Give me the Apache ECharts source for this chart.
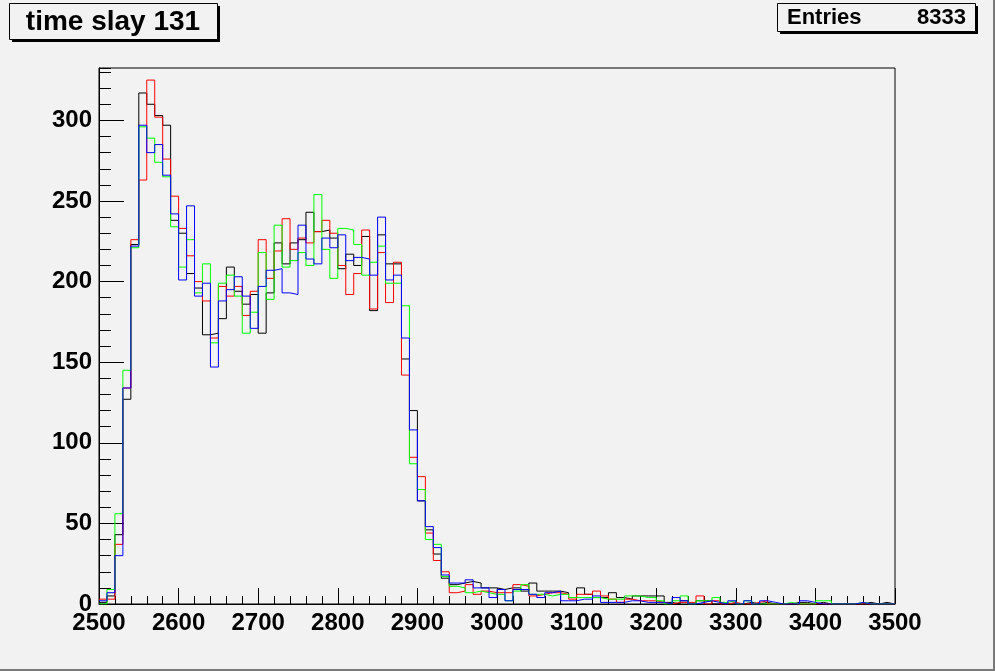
<!DOCTYPE html>
<html><head><meta charset="utf-8">
<script src="https://cdn.jsdelivr.net/npm/echarts@6/dist/echarts.min.js"></script>
<style>html,body{margin:0;padding:0;background:#f2f2f2;}#c{width:995px;height:671px;}</style>
</head><body><div id="c"></div>
<script>
const titleText = 'time slay 131';
const entriesLabel = 'Entries';
const entriesValue = '8333';
const binStart = 2500;
const binWidth = 10;
const xMin = 2500, xMax = 3500, xStep = 100;
const yMin = 0, yMax = 332.5, yStep = 50, yMinorStep = 10;

const black = [1,5,43,127,223,317,310,303,297,238, 230,205,196,167,168,177,209,194,186,192, 168,193,224,211,224,226,243,231,232,227, 208,217,210,228,182,229,211,211,152,120, 64,46,31,16,12,13,14,13,10,10, 9,10,10,8,13,8,8,8,7,4, 10,6,4,4,7,4,3,5,5,5, 5,1,0,2,0,2,2,0,0,0, 0,1,0,1,0,0,0,1,1,0, 1,0,0,0,0,0,1,0,1,0];
const red = [3,3,37,134,226,263,325,302,276,253, 233,216,200,188,165,197,191,197,179,194, 226,202,219,239,220,227,224,231,238,230, 210,192,205,232,183,218,187,212,142,91, 79,44,27,20,7,8,12,6,8,7, 7,7,12,11,5,6,7,7,6,3, 6,6,8,5,3,1,3,2,2,2, 1,0,1,1,1,5,0,2,0,1, 0,0,1,2,0,0,0,0,0,0, 0,0,0,0,0,0,0,0,0,0];
const green = [0,9,56,145,221,296,289,274,265,234, 209,226,193,211,162,199,204,191,168,181, 218,189,235,209,213,218,210,254,220,202, 233,232,223,204,212,222,199,199,185,87, 71,40,37,17,11,10,7,8,7,6, 6,2,8,12,6,6,5,6,6,4, 4,4,4,3,3,3,5,5,4,4, 2,0,2,5,0,2,2,4,1,2, 0,2,0,0,0,0,1,0,0,0, 2,2,0,0,0,1,0,0,0,0];
const blue = [2,7,30,134,222,297,280,285,266,242, 201,247,191,199,147,188,195,203,191,171, 197,207,208,193,192,235,214,211,227,221, 229,213,215,214,204,240,201,204,165,108, 64,48,35,18,13,13,15,10,10,4, 9,2,9,9,6,4,7,8,2,2, 3,3,5,1,1,1,2,2,1,1, 1,0,4,2,0,1,2,1,0,2, 0,2,0,2,1,0,0,0,2,1, 0,0,0,0,0,1,0,0,0,0];

function steps(v){
  const d = v.map((y,i)=>[binStart+i*binWidth, y]);
  d.push([binStart+v.length*binWidth, v[v.length-1]]);
  return d;
}
const FONT = "'Liberation Sans', Arial, Helvetica, sans-serif";
const chart = echarts.init(document.getElementById('c'), null, {renderer:'canvas'});
function ser(name, data, color, z){
  return {name, type:'line', step:'end', data:steps(data), symbol:'none', showSymbol:false,
    lineStyle:{color, width:1}, itemStyle:{color}, z, animation:false, clip:true};
}
chart.setOption({
  backgroundColor:'#f2f2f2',
  animation:false,
  grid:{left:99, right:100, top:68, bottom:67, show:true, borderColor:'#000', borderWidth:1, backgroundColor:'#f2f2f2'},
  xAxis:{type:'value', min:xMin, max:xMax, interval:xStep,
    axisLine:{show:true, lineStyle:{color:'#000', width:1}},
    axisTick:{show:true, inside:true, length:16, lineStyle:{color:'#000'}},
    minorTick:{show:true, splitNumber:5, length:8, lineStyle:{color:'#000'}},
    splitLine:{show:false}, minorSplitLine:{show:false},
    axisLabel:{show:true, margin:7, color:'#000', fontFamily:FONT, fontWeight:'bold', fontSize:24, showMinLabel:true, showMaxLabel:true,
      formatter:v=>String(v)}
  },
  yAxis:[
    {type:'value', min:yMin, max:yMax, interval:yStep, position:'left',
      axisLine:{show:true, lineStyle:{color:'#000', width:1}},
      axisTick:{show:true, inside:true, length:25, lineStyle:{color:'#000'}},
      splitLine:{show:false},
      axisLabel:{show:true, margin:7, color:'#000', fontFamily:FONT, fontWeight:'bold', fontSize:24, showMaxLabel:false,
        formatter:v=> (v%yStep===0 ? String(v) : '')}
    },
    {type:'value', min:yMin, max:yMax, interval:yMinorStep, position:'left', offset:0,
      axisLine:{show:false},
      axisTick:{show:true, inside:true, length:12, lineStyle:{color:'#000'}},
      splitLine:{show:false}, axisLabel:{show:false}
    }
  ],
  series:[
    ser('black', black, '#000000', 2),
    ser('red', red, '#ff0000', 3),
    ser('green', green, '#00ff00', 4),
    ser('blue', blue, '#0000ff', 5)
  ],
  graphic:[
    {type:'rect', shape:{x:12, y:6, width:208, height:36}, style:{fill:'#000'}, z:10},
    {type:'rect', shape:{x:9.5, y:3.5, width:208, height:36}, style:{fill:'#f2f2f2', stroke:'#000', lineWidth:1}, z:11},
    {type:'text', x:113, y:22, style:{text:titleText, font:"bold 28px "+FONT, fill:'#000', textAlign:'center', textVerticalAlign:'middle'}, z:12},
    {type:'rect', shape:{x:780, y:6, width:198, height:28}, style:{fill:'#000'}, z:10},
    {type:'rect', shape:{x:777.5, y:3.5, width:198, height:28}, style:{fill:'#f2f2f2', stroke:'#000', lineWidth:1}, z:11},
    {type:'text', x:787, y:18, style:{text:entriesLabel, font:"bold 22px "+FONT, fill:'#000', textAlign:'left', textVerticalAlign:'middle'}, z:12},
    {type:'text', x:966, y:18, style:{text:entriesValue, font:"bold 22px "+FONT, fill:'#000', textAlign:'right', textVerticalAlign:'middle'}, z:12},
    {type:'line', shape:{x1:994, y1:0, x2:994, y2:671}, style:{stroke:'#7a7a7a', lineWidth:2}, z:12},
    {type:'line', shape:{x1:0, y1:670, x2:995, y2:670}, style:{stroke:'#7a7a7a', lineWidth:2}, z:12}
  ]
});
</script></body></html>
